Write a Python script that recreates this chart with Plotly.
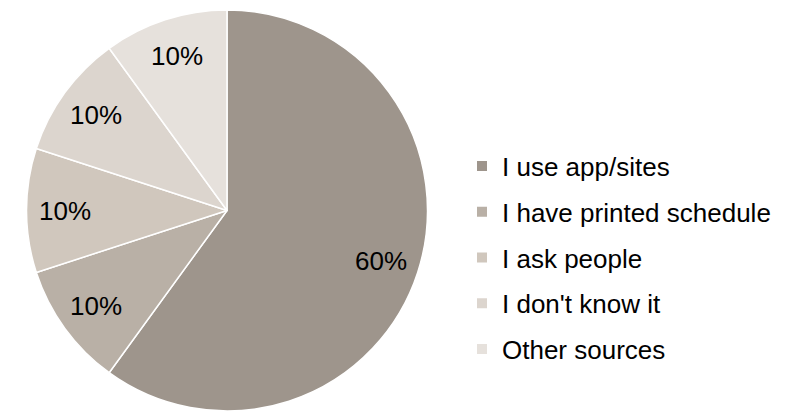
import numpy as np
import plotly.graph_objects as go

labels = ["I use app/sites", "I have printed schedule", "I ask people", "I don't know it", "Other sources"]
values = [60, 10, 10, 10, 10]
colors = ["#9e958c", "#b9b0a6", "#d0c7bd", "#dcd5ce", "#e6e1dc"]

W, H = 808, 411
font_family = "Arial, Liberation Sans, sans-serif"
FS = 26

# pie geometry (pixels)
cx, cy, R = 227.0, 210.5, 200.5

fig = go.Figure()
fig.add_trace(go.Pie(
    labels=labels, values=values, sort=False, direction="clockwise", rotation=0,
    marker=dict(colors=colors, line=dict(color="white", width=1.5)),
    textinfo="none",
    showlegend=False, hoverinfo="label+percent",
    domain=dict(x=[(cx - R) / W, (cx + R) / W], y=[0.0, 2 * R / H]),
))

# percentage labels placed along each slice's mid-angle
vals = np.array(values, dtype=float)
fracs = vals / vals.sum()
starts = np.concatenate([[0.0], np.cumsum(fracs)[:-1]])
mids = (starts + fracs / 2) * 2 * np.pi
for f, a in zip(fracs, mids):
    r = 0.81 * R
    px = cx + r * np.sin(a)
    py = cy - r * np.cos(a)
    fig.add_annotation(
        x=px / W, y=1 - py / H, xref="paper", yref="paper",
        text=f"{f:.0%}", showarrow=False,
        font=dict(family=font_family, size=FS, color="black"),
        xanchor="center", yanchor="middle",
    )

for lab, col in zip(labels, colors):
    fig.add_trace(go.Scatter(
        x=[None], y=[None], mode="markers", name=lab, legendgroup=lab,
        marker=dict(symbol="square", size=10, color=col),
    ))

fig.update_layout(
    width=W, height=H, margin=dict(l=0, r=0, t=0, b=0),
    paper_bgcolor="white", plot_bgcolor="white",
    xaxis=dict(visible=False), yaxis=dict(visible=False),
    font=dict(family=font_family, size=FS, color="black"),
    legend=dict(x=462 / W, xanchor="left", y=1 - 258 / H, yanchor="middle",
                tracegroupgap=9, font=dict(size=FS),
                bgcolor="rgba(0,0,0,0)"),
)

fig.write_html("out.html")
